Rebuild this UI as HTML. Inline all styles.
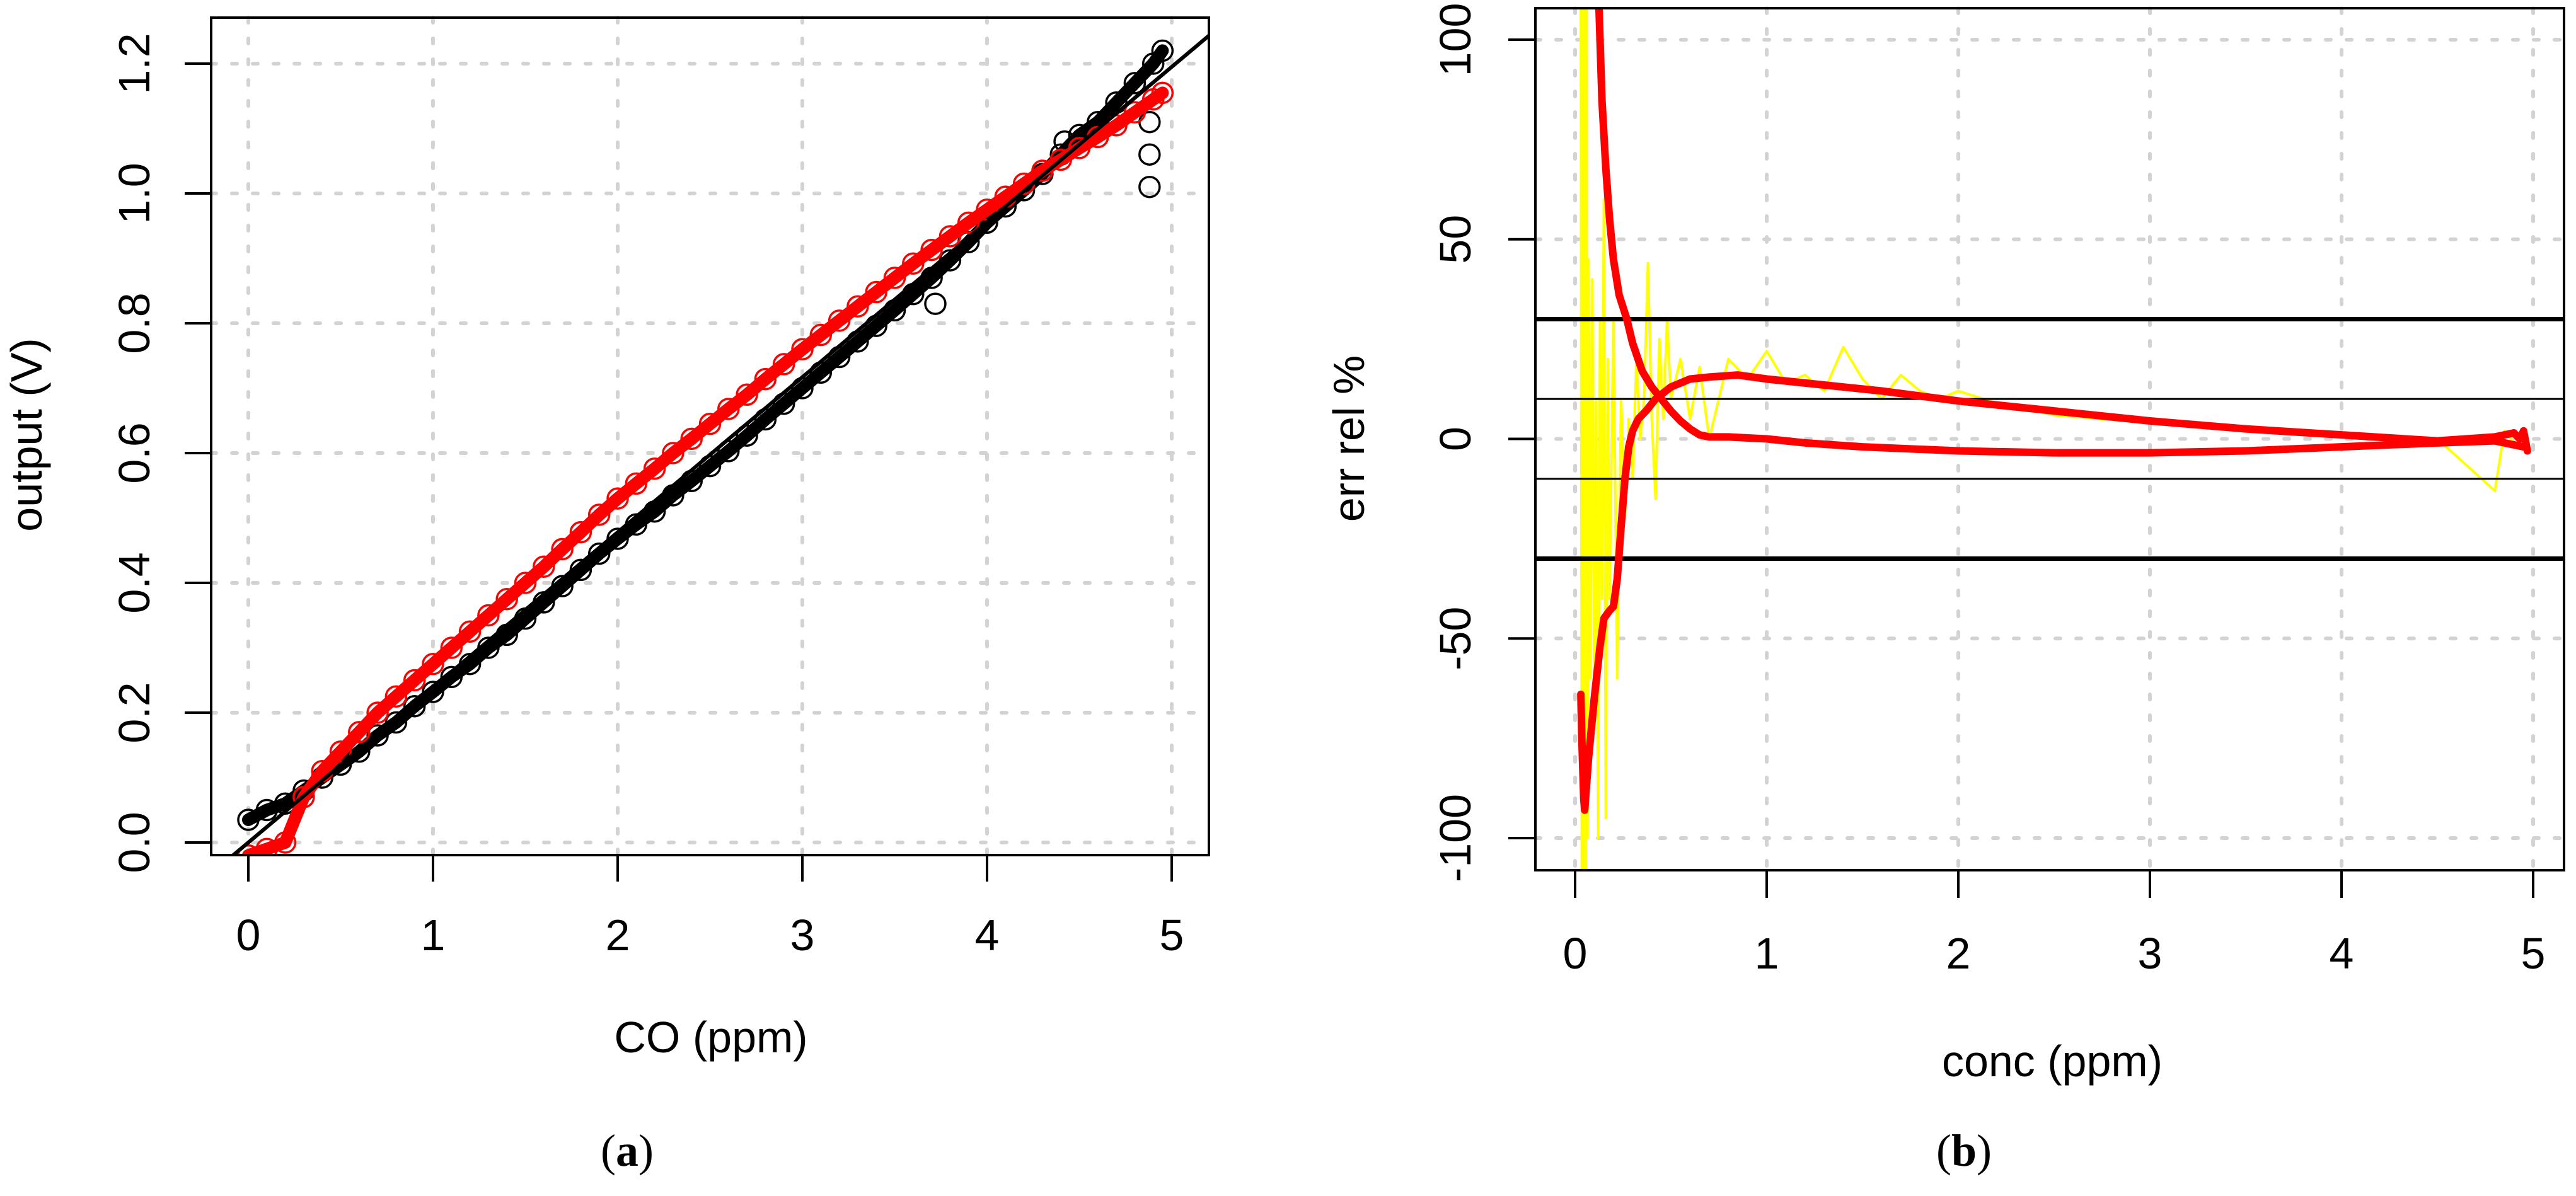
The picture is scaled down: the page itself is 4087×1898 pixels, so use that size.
<!DOCTYPE html>
<html><head><meta charset="utf-8"><style>
html,body{margin:0;padding:0;background:#fff;width:4087px;height:1898px;overflow:hidden}
svg{display:block}
text{font-family:"Liberation Sans",Arial,sans-serif;fill:#000}
</style></head><body>
<svg id="chart" width="4087" height="1898" viewBox="0 0 4087 1898" xmlns="http://www.w3.org/2000/svg">
<defs>
<clipPath id="clipA"><rect x="335" y="28" width="1583" height="1329"/></clipPath>
<clipPath id="clipB"><rect x="2436" y="13" width="1632" height="1368"/></clipPath>
</defs>
<g id="panelA"></g>
<g id="panelB"></g>
<text x="995" y="1850" text-anchor="middle" style="font-family:'Liberation Serif',serif;font-size:72px">(<tspan font-weight="bold">a</tspan>)</text>
<text x="3116" y="1850" text-anchor="middle" style="font-family:'Liberation Serif',serif;font-size:72px">(<tspan font-weight="bold">b</tspan>)</text>
</svg>
<script>
// ---------- Panel A data ----------
const aXTicks = [0,1,2,3,4,5];
const aYTicks = [0,0.2,0.4,0.6,0.8,1.0,1.2];
const aYTickLabels = ["0.0","0.2","0.4","0.6","0.8","1.0","1.2"];
const aX = [0,0.1,0.2,0.3,0.4,0.5,0.6,0.7,0.8,0.9,1.0,1.1,1.2,1.3,1.4,1.5,1.6,1.7,1.8,1.9,2.0,2.1,2.2,2.3,2.4,2.5,2.6,2.7,2.8,2.9,3.0,3.1,3.2,3.3,3.4,3.5,3.6,3.7,3.8,3.9,4.0,4.1,4.2,4.3,4.4,4.5,4.6,4.7,4.8,4.9,4.95];
const blackY = [0.035,0.05,0.06,0.08,0.10,0.12,0.14,0.165,0.185,0.21,0.232,0.255,0.275,0.30,0.32,0.345,0.37,0.395,0.42,0.445,0.468,0.49,0.51,0.535,0.557,0.58,0.603,0.627,0.652,0.676,0.70,0.724,0.748,0.772,0.796,0.82,0.845,0.87,0.897,0.925,0.955,0.98,1.005,1.03,1.06,1.09,1.11,1.14,1.17,1.20,1.22];
const redY = [-0.02,-0.01,0.0,0.07,0.11,0.14,0.17,0.20,0.225,0.25,0.275,0.30,0.325,0.35,0.375,0.40,0.425,0.452,0.478,0.505,0.53,0.553,0.576,0.60,0.622,0.645,0.668,0.69,0.714,0.737,0.76,0.782,0.804,0.826,0.848,0.87,0.892,0.913,0.934,0.955,0.975,0.995,1.015,1.035,1.052,1.07,1.087,1.105,1.125,1.145,1.155];
const outlierX = [4.88,4.88,4.88,3.72,4.42];
const outlierY = [1.01,1.06,1.11,0.83,1.08];
const fitSlope = 0.239;
const fitIntercept = 0.0;

// ---------- Panel B data ----------
const bXTicks = [0,1,2,3,4,5];
const bYTicks = [-100,-50,0,50,100];
const bHLinesThick = [30,-30];
const bHLinesThin = [10,-10];
const yellowX = [0.03,0.035,0.04,0.045,0.05,0.055,0.06,0.065,0.07,0.08,0.09,0.1,0.11,0.12,0.13,0.14,0.15,0.16,0.17,0.18,0.2,0.22,0.24,0.26,0.28,0.3,0.32,0.34,0.36,0.38,0.4,0.42,0.44,0.46,0.48,0.5,0.55,0.6,0.65,0.7,0.8,0.9,1.0,1.1,1.2,1.3,1.4,1.5,1.6,1.7,1.8,1.9,2.0,2.2,2.5,3.0,3.5,4.0,4.5,4.8,4.85,4.9,4.95];
const yellowY = [110,-110,110,-110,110,-110,108,-100,45,-60,40,-70,10,-100,30,-40,60,-95,20,-40,30,-60,10,-20,5,-10,20,0,10,44,5,-15,25,5,30,10,20,5,18,0,20,15,22,14,16,12,23,15,10,16,12,10,12,9,6,4,2,1,0,-13,2,-1,0];
const curveAX = [0.12,0.14,0.16,0.18,0.2,0.23,0.27,0.3,0.35,0.4,0.45,0.5,0.55,0.6,0.65,0.7,0.8,1.0,1.2,1.5,2.0,2.5,3.0,3.5,4.0,4.5,4.8,4.95];
const curveAY = [115,85,68,55,45,36,30,24,17,13,10,7,4.5,2.5,1,0.5,0.5,0,-1,-2,-3,-3.5,-3.5,-3,-2,-1,-0.5,-2];
const curveBX = [0.03,0.035,0.045,0.05,0.07,0.1,0.13,0.15,0.18,0.2,0.22,0.24,0.26,0.28,0.3,0.33,0.37,0.42,0.5,0.6,0.7,0.85,1.0,1.3,1.6,2.0,2.5,3.0,3.5,4.0,4.5,4.8,4.9,4.93,4.95,4.97];
const curveBY = [-64,-75,-90,-93,-80,-65,-52,-45,-43,-42,-35,-22,-10,-2,2,5,7,10,13,15,15.5,16,15,13.5,12,9.5,7,4.5,2.5,1,-0.5,0.5,1.5,0,2,-3];

const NS = "http://www.w3.org/2000/svg";
function mk(parent, tag, attrs){
  const e = document.createElementNS(NS, tag);
  for (const k in attrs) e.setAttribute(k, attrs[k]);
  parent.appendChild(e);
  return e;
}
const axA = v => 394 + v*293;
const ayA = v => 1337 - v*1030;
const axB = v => 2499 + v*304;
const ayB = v => 696.5 - v*6.335;

// ---------- Panel A ----------
const A = document.getElementById('panelA');
const gridA = mk(A,'g',{});


aXTicks.forEach(t=>{
  const l = mk(gridA,'line',{x1:axA(t),x2:axA(t),y1:28,y2:1357,stroke:'#d3d3d3','stroke-width':6,'stroke-dasharray':'8 25','stroke-linecap':'round'});
  
  
});
aYTicks.forEach((t,i)=>{
  const l = mk(gridA,'line',{x1:335,x2:1918,y1:ayA(t),y2:ayA(t),stroke:'#d3d3d3','stroke-width':6,'stroke-dasharray':'8 25','stroke-linecap':'round'});
  
  
});
const dataA = mk(A,'g',{'clip-path':'url(#clipA)'});


function series(parent, ys, color, name){
  const g = mk(parent,'g',{});
  
  
  const pts = aX.map((x,i)=>axA(x)+','+ayA(ys[i])).join(' ');
  const band = mk(g,'polyline',{points:pts,fill:'none',stroke:color,'stroke-width':20,'stroke-linejoin':'round','stroke-linecap':'round'});
  
  
  aX.forEach((x,i)=>{
    const c = mk(g,'circle',{cx:axA(x),cy:ayA(ys[i]),r:16,fill:'none',stroke:color,'stroke-width':3.5});
    
    
  });
}
series(dataA, blackY, '#000', 'black-series');
outlierX.forEach((x,i)=>{
  const c = mk(dataA,'circle',{cx:axA(x),cy:ayA(outlierY[i]),r:16,fill:'none',stroke:'#000','stroke-width':3.5});
  
  
});
series(dataA, redY, '#ff0000', 'red-series');
const fit = mk(dataA,'line',{x1:axA(-0.2),y1:ayA(fitIntercept+fitSlope*-0.2),x2:axA(5.4),y2:ayA(fitIntercept+fitSlope*5.4),stroke:'#000','stroke-width':6});


const boxA = mk(A,'rect',{x:335,y:28,width:1583,height:1329,fill:'none',stroke:'#000','stroke-width':4});


aXTicks.forEach(t=>{
  const l = mk(A,'line',{x1:axA(t),x2:axA(t),y1:1357,y2:1399,stroke:'#000','stroke-width':4});
  
  
  const tx = mk(A,'text',{x:axA(t),y:1508,'text-anchor':'middle','font-size':70});
  tx.textContent = t;
  
  
});
aYTicks.forEach((t,i)=>{
  const l = mk(A,'line',{x1:293,x2:335,y1:ayA(t),y2:ayA(t),stroke:'#000','stroke-width':4});
  
  
  const tx = mk(A,'text',{x:237,y:ayA(t),'text-anchor':'middle','font-size':70,transform:'rotate(-90 237 '+ayA(t)+')'});
  tx.textContent = aYTickLabels[i];
  
  
});
const xtA = mk(A,'text',{x:1128,y:1670,'text-anchor':'middle','font-size':70});
xtA.textContent = 'CO (ppm)';


const ytA = mk(A,'text',{x:66,y:690,'text-anchor':'middle','font-size':70,transform:'rotate(-90 66 690)'});
ytA.textContent = 'output (V)';



// ---------- Panel B ----------
const B = document.getElementById('panelB');
const gridB = mk(B,'g',{});


bXTicks.forEach(t=>{
  const l = mk(gridB,'line',{x1:axB(t),x2:axB(t),y1:13,y2:1381,stroke:'#d3d3d3','stroke-width':6,'stroke-dasharray':'8 25','stroke-linecap':'round'});
  
  
});
bYTicks.forEach(t=>{
  const l = mk(gridB,'line',{x1:2436,x2:4068,y1:ayB(t),y2:ayB(t),stroke:'#d3d3d3','stroke-width':6,'stroke-dasharray':'8 25','stroke-linecap':'round'});
  
  
});
const dataB = mk(B,'g',{'clip-path':'url(#clipB)'});


const n = Math.min(yellowX.length, yellowY.length);
const ypts = [];
for (let i=0;i<n;i++) ypts.push(axB(yellowX[i])+','+ayB(yellowY[i]));
const yl = mk(dataB,'polyline',{points:ypts.join(' '),fill:'none',stroke:'#ffff00','stroke-width':4,'stroke-linejoin':'round'});


bHLinesThick.forEach(v=>{
  const l = mk(dataB,'line',{x1:2436,x2:4068,y1:ayB(v),y2:ayB(v),stroke:'#000','stroke-width':7});
  
  
});
bHLinesThin.forEach(v=>{
  const l = mk(dataB,'line',{x1:2436,x2:4068,y1:ayB(v),y2:ayB(v),stroke:'#000','stroke-width':3});
  
  
});
const cA = mk(dataB,'polyline',{points:curveAX.map((x,i)=>axB(x)+','+ayB(curveAY[i])).join(' '),fill:'none',stroke:'#ff0000','stroke-width':12,'stroke-linejoin':'round','stroke-linecap':'round'});


const cB = mk(dataB,'polyline',{points:curveBX.map((x,i)=>axB(x)+','+ayB(curveBY[i])).join(' '),fill:'none',stroke:'#ff0000','stroke-width':12,'stroke-linejoin':'round','stroke-linecap':'round'});


const boxB = mk(B,'rect',{x:2436,y:13,width:1632,height:1368,fill:'none',stroke:'#000','stroke-width':4});


bXTicks.forEach(t=>{
  const l = mk(B,'line',{x1:axB(t),x2:axB(t),y1:1381,y2:1425,stroke:'#000','stroke-width':4});
  
  
  const tx = mk(B,'text',{x:axB(t),y:1537,'text-anchor':'middle','font-size':70});
  tx.textContent = t;
  
  
});
bYTicks.forEach(t=>{
  const l = mk(B,'line',{x1:2393,x2:2436,y1:ayB(t),y2:ayB(t),stroke:'#000','stroke-width':4});
  
  
  const tx = mk(B,'text',{x:2333,y:ayB(t),'text-anchor':'middle','font-size':70,transform:'rotate(-90 2333 '+ayB(t)+')'});
  tx.textContent = t;
  
  
});
const xtB = mk(B,'text',{x:3256,y:1708,'text-anchor':'middle','font-size':70});
xtB.textContent = 'conc (ppm)';


const ytB = mk(B,'text',{x:2164,y:696,'text-anchor':'middle','font-size':70,transform:'rotate(-90 2164 696)'});
ytB.textContent = 'err rel %';


</script>
</body></html>
